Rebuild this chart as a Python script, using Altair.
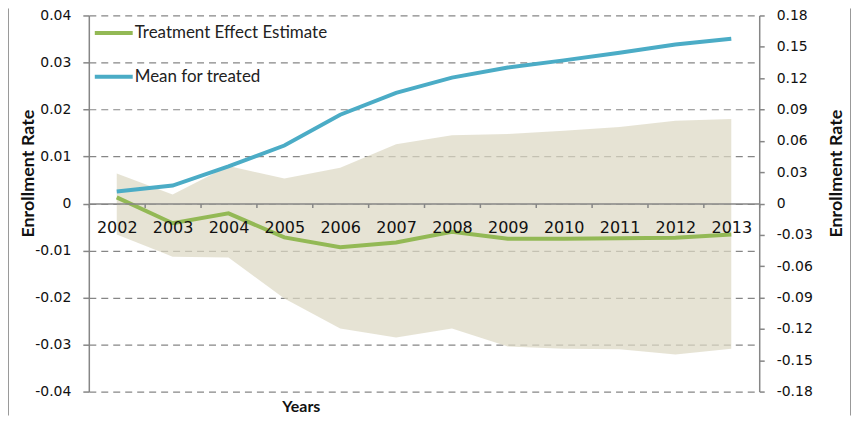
import altair as alt
import pandas as pd

years = [2002, 2003, 2004, 2005, 2006, 2007, 2008, 2009, 2010, 2011, 2012, 2013]
effect = [0.0013, -0.0042, -0.0021, -0.0072, -0.0093, -0.0083, -0.0060, -0.0075, -0.0075, -0.0074, -0.0073, -0.0066]
ci_low = [-0.0066, -0.0113, -0.0115, -0.0202, -0.0266, -0.0285, -0.0266, -0.0304, -0.0309, -0.0310, -0.0321, -0.0309]
ci_high = [0.0064, 0.0019, 0.0080, 0.0053, 0.0076, 0.0126, 0.0145, 0.0148, 0.0155, 0.0163, 0.0176, 0.0180]
mean_treated = [0.0115, 0.0172, 0.0355, 0.0555, 0.0850, 0.1060, 0.1205, 0.1302, 0.1370, 0.1443, 0.1523, 0.1577]

left_ticks = [-0.04, -0.03, -0.02, -0.01, 0.0, 0.01, 0.02, 0.03, 0.04]
right_ticks = [-0.18, -0.15, -0.12, -0.09, -0.06, -0.03, 0.0, 0.03, 0.06, 0.09, 0.12, 0.15, 0.18]
series_names = ["Treatment Effect Estimate", "Mean for treated"]
series_colors = ["#93B955", "#4BACC6"]

df = pd.DataFrame({"year": years, "te": effect, "lo": ci_low, "hi": ci_high, "mean": mean_treated})

W, H = 672, 377
GRAY = "#868686"
label_expr = "abs(datum.value) < 1e-9 ? '0' : (datum.value < 0 ? '-' : '') + format(abs(datum.value), '.2f')"

x_enc = alt.X(
    "year:O",
    scale=alt.Scale(type="band", paddingInner=0, paddingOuter=0),
    axis=alt.Axis(
        title=None, orient="bottom", offset=-H / 2, tickBand="extent",
        domainColor=GRAY, domainWidth=1.5, tickColor=GRAY, tickWidth=1.5, tickSize=4,
        labelAngle=0, labelFont="DejaVu Sans", labelFontSize=16, labelColor="#111",
        labelPadding=12, grid=False, zindex=1,
    ),
)

left_axis = alt.Axis(
    orient="left", values=left_ticks, labelExpr=label_expr,
    grid=True, gridDash=[7, 5], gridColor=GRAY, gridWidth=1.2,
    domainColor=GRAY, domainWidth=1.5, tickColor=GRAY, tickWidth=1.5, tickSize=6,
    labelFont="DejaVu Sans", labelFontSize=14, labelColor="#111", labelPadding=12,
    title="Enrollment Rate", titleFont="Lato", titleFontWeight="bold", titleFontSize=18,
    titleColor="#111", titleAngle=270, titleX=-60.5, titleY=158,
    titleAlign="center", titleBaseline="middle",
)
left_scale = alt.Scale(domain=[-0.04, 0.04], nice=False, zero=False)

right_axis = alt.Axis(
    orient="right", values=right_ticks, labelExpr=label_expr, grid=False,
    domainColor=GRAY, domainWidth=1.5, tickColor=GRAY, tickWidth=1.5, tickSize=5,
    labelFont="DejaVu Sans", labelFontSize=14, labelColor="#111", labelPadding=12,
    title="Enrollment Rate", titleFont="Lato", titleFontWeight="bold", titleFontSize=18,
    titleColor="#111", titleAngle=270, titleX=77, titleY=158,
    titleAlign="center", titleBaseline="middle",
)
right_scale = alt.Scale(domain=[-0.18, 0.18], nice=False, zero=False)

legend = alt.Legend(
    title=None, orient="none", legendX=4, legendY=-3.5,
    symbolType="stroke", symbolSize=1444, symbolStrokeWidth=4,
    labelFont="Lato", labelFontSize=17, labelColor="#222", labelLimit=0,
    rowPadding=15, labelOffset=0, padding=0,
)
color_enc = alt.Color("series:N", scale=alt.Scale(domain=series_names, range=series_colors), legend=legend)

area = alt.Chart(df).mark_area(color="#DDD8C4", opacity=0.72).encode(
    x=x_enc,
    y=alt.Y("lo:Q", scale=left_scale, axis=left_axis),
    y2="hi:Q",
)
green = alt.Chart(df).transform_calculate(series="'Treatment Effect Estimate'").mark_line(strokeWidth=4).encode(
    x=x_enc,
    y=alt.Y("te:Q", scale=left_scale, axis=left_axis),
    color=color_enc,
)
blue = alt.Chart(df).transform_calculate(series="'Mean for treated'").mark_line(strokeWidth=4).encode(
    x=x_enc,
    y=alt.Y("mean:Q", scale=right_scale, axis=right_axis),
    color=color_enc,
)

one = pd.DataFrame({"t": ["Years"]})
years_title = alt.Chart(one).mark_text(
    font="Lato", fontWeight="bold", fontSize=16, color="#111", align="center", baseline="alphabetic"
).encode(text="t:N", x=alt.value(213), y=alt.value(H + 20))

border_l = alt.Chart(one).mark_rule(color="#999999", strokeWidth=1).encode(
    x=alt.value(-80.5), y=alt.value(-7), y2=alt.value(H + 24)
)
border_r = alt.Chart(one).mark_rule(color="#999999", strokeWidth=1).encode(
    x=alt.value(763.5), y=alt.value(-7), y2=alt.value(H + 24)
)

chart = alt.layer(
    alt.layer(area, green), blue, years_title, border_l, border_r
).resolve_scale(y="independent").properties(
    width=W, height=H, autosize="none",
    padding={"left": 81, "top": 7, "right": 92, "bottom": 24},
).configure_view(stroke=None)

chart.save("out.html", embed_options={"renderer": "svg", "actions": False})
